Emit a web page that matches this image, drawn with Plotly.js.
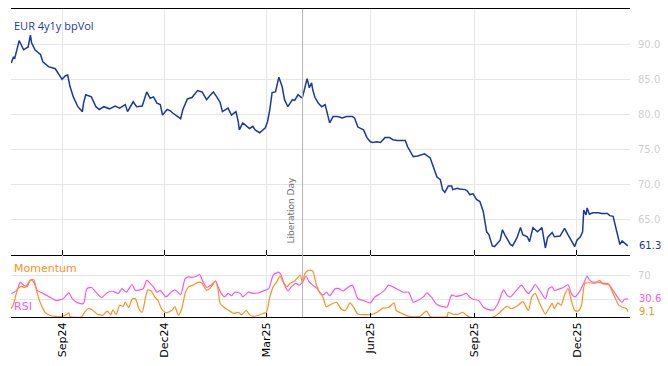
<!DOCTYPE html>
<html>
<head>
<meta charset="utf-8">
<script src="https://cdn.plot.ly/plotly-3.0.1.min.js"></script>
<style>html,body{margin:0;padding:0;background:#fff}#chart{width:668px;height:366px}</style>
</head>
<body>
<div id="chart"></div>
<script>
// ---- data ----
var volDates = ['2024-07-18','2024-07-20','2024-07-21','2024-07-25','2024-07-29','2024-08-02','2024-08-04','2024-08-05','2024-08-08','2024-08-13','2024-08-15','2024-08-20','2024-08-26','2024-08-28','2024-09-01','2024-09-04','2024-09-06','2024-09-08','2024-09-11','2024-09-15','2024-09-19','2024-09-20','2024-09-22','2024-09-27','2024-10-01','2024-10-04','2024-10-08','2024-10-13','2024-10-18','2024-10-22','2024-10-27','2024-10-29','2024-11-03','2024-11-06','2024-11-11','2024-11-15','2024-11-18','2024-11-21','2024-11-24','2024-11-27','2024-11-29','2024-12-03','2024-12-06','2024-12-08','2024-12-12','2024-12-15','2024-12-17','2024-12-21','2024-12-25','2024-12-30','2025-01-03','2025-01-07','2025-01-10','2025-01-13','2025-01-16','2025-01-19','2025-01-21','2025-01-26','2025-01-29','2025-02-02','2025-02-04','2025-02-05','2025-02-08','2025-02-12','2025-02-14','2025-02-17','2025-02-19','2025-02-23','2025-02-28','2025-03-02','2025-03-04','2025-03-06','2025-03-09','2025-03-12','2025-03-15','2025-03-17','2025-03-20','2025-03-24','2025-03-26','2025-03-29','2025-04-01','2025-04-02','2025-04-06','2025-04-08','2025-04-10','2025-04-11','2025-04-13','2025-04-16','2025-04-19','2025-04-22','2025-04-24','2025-04-26','2025-04-29','2025-05-03','2025-05-07','2025-05-11','2025-05-16','2025-05-18','2025-05-21','2025-05-26','2025-05-29','2025-06-01','2025-06-03','2025-06-07','2025-06-10','2025-06-14','2025-06-18','2025-06-21','2025-06-25','2025-07-02','2025-07-04','2025-07-09','2025-07-13','2025-07-19','2025-07-24','2025-07-27','2025-07-30','2025-08-02','2025-08-04','2025-08-06','2025-08-09','2025-08-12','2025-08-13','2025-08-17','2025-08-19','2025-08-24','2025-08-26','2025-08-28','2025-08-31','2025-09-03','2025-09-06','2025-09-09','2025-09-12','2025-09-14','2025-09-17','2025-09-19','2025-09-22','2025-09-24','2025-09-26','2025-09-28','2025-10-03','2025-10-05','2025-10-09','2025-10-12','2025-10-14','2025-10-18','2025-10-20','2025-10-23','2025-10-27','2025-10-31','2025-11-03','2025-11-05','2025-11-09','2025-11-11','2025-11-16','2025-11-18','2025-11-20','2025-11-23','2025-11-27','2025-11-29','2025-12-01','2025-12-04','2025-12-06','2025-12-07','2025-12-09','2025-12-10','2025-12-12','2025-12-15','2025-12-20','2025-12-23','2025-12-28','2025-12-30','2026-01-02','2026-01-05','2026-01-08','2026-01-10','2026-01-14','2026-01-15'];
var volValues = [87.3,88.2,87.9,90.5,89.2,89.6,91.3,90.2,89.2,88.5,87.5,86.8,86.5,86.0,85.0,85.5,85.6,84.0,82.5,81.1,80.4,81.6,82.8,82.5,81.1,80.7,81.1,80.8,81.2,80.9,81.4,80.4,81.8,81.1,81.2,83.2,82.3,82.5,81.6,81.4,79.9,80.7,80.5,80.2,79.7,79.4,80.7,82.2,82.4,83.4,83.2,82.1,82.7,83.2,82.5,81.7,80.4,80.9,79.9,80.4,79.0,77.8,78.8,78.2,78.0,78.3,77.8,77.4,78.1,79.0,80.7,83.1,83.2,85.3,83.9,82.1,81.1,82.1,82.0,82.8,82.4,82.5,85.1,83.8,84.5,83.5,82.4,81.6,81.1,81.4,79.9,78.8,79.7,79.7,79.5,79.7,79.7,79.5,78.2,77.8,76.7,76.1,76.0,76.1,76.0,76.7,76.7,76.4,76.3,76.3,75.4,74.0,74.1,74.4,73.8,72.3,71.1,70.7,69.3,68.9,69.8,69.8,69.3,69.5,69.4,69.3,69.1,68.6,68.7,67.9,67.6,66.2,63.3,62.9,61.3,61.2,61.7,62.1,63.6,62.9,61.5,61.3,62.5,63.9,62.9,62.6,61.9,63.9,63.3,63.9,61.0,62.5,63.2,62.6,62.7,63.2,63.8,62.9,61.7,61.2,62.1,62.6,63.3,66.4,65.7,66.7,65.8,66.0,66.0,65.9,65.9,65.6,65.5,63.6,61.5,62.0,61.5,61.3];

var rsiDates = ['2024-07-18','2024-07-23','2024-07-26','2024-07-29','2024-08-01','2024-08-04','2024-08-07','2024-08-10','2024-08-14','2024-08-21','2024-08-27','2024-09-02','2024-09-07','2024-09-10','2024-09-15','2024-09-20','2024-09-23','2024-09-27','2024-10-02','2024-10-06','2024-10-11','2024-10-15','2024-10-21','2024-10-24','2024-10-28','2024-11-02','2024-11-05','2024-11-09','2024-11-12','2024-11-15','2024-11-18','2024-11-21','2024-11-24','2024-11-27','2024-12-02','2024-12-06','2024-12-10','2024-12-15','2024-12-19','2024-12-22','2024-12-25','2024-12-29','2025-01-01','2025-01-03','2025-01-07','2025-01-11','2025-01-15','2025-01-17','2025-01-20','2025-01-23','2025-01-26','2025-01-29','2025-02-01','2025-02-06','2025-02-08','2025-02-13','2025-02-17','2025-02-22','2025-02-26','2025-03-03','2025-03-07','2025-03-12','2025-03-14','2025-03-17','2025-03-20','2025-03-23','2025-03-27','2025-03-30','2025-04-02','2025-04-05','2025-04-08','2025-04-11','2025-04-15','2025-04-17','2025-04-20','2025-04-23','2025-04-26','2025-05-01','2025-05-04','2025-05-08','2025-05-12','2025-05-16','2025-05-18','2025-05-21','2025-05-26','2025-06-01','2025-06-05','2025-06-10','2025-06-14','2025-06-17','2025-06-21','2025-06-26','2025-06-30','2025-07-05','2025-07-09','2025-07-13','2025-07-18','2025-07-21','2025-07-25','2025-07-30','2025-08-05','2025-08-08','2025-08-12','2025-08-16','2025-08-21','2025-08-25','2025-08-28','2025-08-31','2025-09-05','2025-09-09','2025-09-13','2025-09-18','2025-09-22','2025-09-27','2025-09-30','2025-10-03','2025-10-07','2025-10-13','2025-10-16','2025-10-19','2025-10-22','2025-10-25','2025-10-29','2025-11-03','2025-11-06','2025-11-09','2025-11-11','2025-11-16','2025-11-19','2025-11-23','2025-11-26','2025-11-29','2025-12-03','2025-12-07','2025-12-10','2025-12-12','2025-12-15','2025-12-20','2025-12-24','2025-12-29','2026-01-02','2026-01-07','2026-01-10','2026-01-12','2026-01-15'];
var rsiValues = [39.7,45,59,54,51,63,59,45,41,34,28,31,41,31,24,23,48,50,40,33,41,44,40,48,42,55,45,46,48,62,57,51,42,45,34,41,46,38,65,68,67,69,72,63,50,54,61,52,40,34,40,36,42,40,34,42,40,41,44,48,71,76,71,54,44,51,57,54,59,69,59,54,48,42,37,42,36,48,48,44,50,54,46,31,28,24,34,40,46,54,51,46,42,42,25,28,34,41,34,21,17,17,37,35,37,40,34,30,28,17,13,12,23,46,37,34,42,54,46,40,46,55,45,31,48,51,45,48,50,55,40,34,42,57,69,63,59,59,57,56,45,31,25,30,30.6];

var momDates = ['2024-07-18','2024-07-20','2024-07-24','2024-07-27','2024-07-30','2024-08-04','2024-08-07','2024-08-10','2024-08-13','2024-08-17','2024-08-21','2024-08-26','2024-09-01','2024-09-04','2024-09-07','2024-09-08','2024-09-18','2024-09-21','2024-09-24','2024-09-28','2024-10-02','2024-10-07','2024-10-11','2024-10-14','2024-10-16','2024-10-19','2024-10-22','2024-10-25','2024-10-27','2024-10-30','2024-11-02','2024-11-05','2024-11-08','2024-11-11','2024-11-14','2024-11-16','2024-11-19','2024-11-22','2024-11-25','2024-11-28','2024-12-01','2024-12-04','2024-12-07','2024-12-10','2024-12-13','2024-12-16','2024-12-19','2024-12-22','2024-12-26','2024-12-31','2025-01-03','2025-01-07','2025-01-11','2025-01-15','2025-01-17','2025-01-19','2025-01-22','2025-01-26','2025-01-31','2025-02-04','2025-02-07','2025-02-11','2025-02-14','2025-02-17','2025-02-22','2025-02-26','2025-03-01','2025-03-04','2025-03-07','2025-03-10','2025-03-13','2025-03-16','2025-03-19','2025-03-22','2025-03-26','2025-03-31','2025-04-02','2025-04-04','2025-04-07','2025-04-11','2025-04-14','2025-04-17','2025-04-20','2025-04-23','2025-04-26','2025-05-02','2025-05-06','2025-05-10','2025-05-14','2025-05-17','2025-05-21','2025-05-29','2025-06-02','2025-06-07','2025-06-12','2025-06-17','2025-06-22','2025-06-24','2025-06-29','2025-07-05','2025-07-15','2025-07-19','2025-07-21','2025-07-24','2025-08-08','2025-08-09','2025-08-13','2025-08-18','2025-08-22','2025-08-25','2025-08-28','2025-09-18','2025-09-22','2025-09-27','2025-09-30','2025-10-04','2025-10-10','2025-10-14','2025-10-19','2025-10-22','2025-10-25','2025-10-29','2025-11-03','2025-11-06','2025-11-09','2025-11-11','2025-11-14','2025-11-17','2025-11-20','2025-11-23','2025-11-26','2025-11-29','2025-12-02','2025-12-05','2025-12-08','2025-12-12','2025-12-17','2025-12-21','2025-12-24','2025-12-29','2026-01-02','2026-01-07','2026-01-10','2026-01-14','2026-01-15'];
var momValues = [14,22,48,52,50,62,63,40,23,8,3,1,1,3,7,1,0,8,14,12,5,3,10,4,12,4,20,18,25,16,30,31,14,8,34,46,44,34,28,14,8,8,11,17,3,14,40,51,54,59,57,45,51,61,48,23,17,12,6,8,4,11,4,1,3,6,8,34,51,59,69,59,51,57,61,71,57,73,79,78,56,42,34,17,20,25,14,11,24,17,5,4,4,8,15,16,24,11,6,1,1,8,10,1,1,8,5,5,8,3,0,0,5,14,18,14,20,26,11,34,40,23,5,14,23,14,24,20,37,48,28,11,10,20,57,58,57,62,56,55,40,20,17,14,9.1];

var tickDates = ['2024-09-01','2024-12-01','2025-03-01','2025-06-01','2025-09-01','2025-12-01'];
var tickLabels = ['Sep24','Dec24','Mar25','Jun25','Sep25','Dec25'];
var volTicks = [65,70,75,80,85,90];
var oscTicks = [30,70];
var oscTickLabels = ['','70'];
var eventDate = '2025-04-02';
var eventLabel = 'Liberation Day';
var seriesNames = ['EUR 4y1y bpVol','RSI','Momentum'];

// ---- styles ----
var BLUE = '#1a3aa0', PINK = '#ff55dd', ORANGE = '#ff9020';
var GRID = '#e6e6e6', TICKC = '#cfcfcf';
var xRange = ['2024-07-17 19:00','2026-01-16 23:00'];

var lastVol = volValues[volValues.length-1];
var lastRsi = rsiValues[rsiValues.length-1];
var lastMom = momValues[momValues.length-1];

var traces = [
  {x: volDates, y: volValues, type:'scatter', mode:'lines', name: seriesNames[0],
   line:{color:BLUE, width:1.5}, xaxis:'x', yaxis:'y', hoverinfo:'skip'},
  {x: rsiDates, y: rsiValues, type:'scatter', mode:'lines', name: seriesNames[1],
   line:{color:PINK, width:1.2, shape:'spline', smoothing:0.6}, xaxis:'x2', yaxis:'y2', hoverinfo:'skip'},
  {x: momDates, y: momValues, type:'scatter', mode:'lines', name: seriesNames[2],
   line:{color:ORANGE, width:1.2, shape:'spline', smoothing:0.6}, xaxis:'x2', yaxis:'y2', hoverinfo:'skip'}
];

var split = 62/308;
var axFont = {family:'DejaVu Sans', size:10, color:TICKC};

var layout = {
  width:668, height:366,
  margin:{l:11, r:38, t:9, b:49},
  paper_bgcolor:'#fff', plot_bgcolor:'#fff',
  showlegend:false,
  font:{family:'DejaVu Sans', size:10},
  xaxis:{domain:[0,1], anchor:'y', type:'date', range:xRange,
    tickvals:tickDates, ticktext:tickLabels, showticklabels:false,
    ticks:'inside', ticklen:5, tickcolor:'#000', tickwidth:1,
    showgrid:true, gridcolor:GRID, gridwidth:1,
    showline:true, linecolor:'#000', linewidth:1, mirror:true, zeroline:false},
  yaxis:{domain:[split,1], anchor:'x', side:'right', range:[60,95],
    tickvals:volTicks, tickformat:'.1f', ticks:'', ticklabelstandoff:7,
    tickfont:axFont, showgrid:true, gridcolor:GRID, gridwidth:1,
    showline:false, zeroline:false},
  xaxis2:{domain:[0,1], anchor:'y2', type:'date', range:xRange,
    tickvals:tickDates, ticktext:tickLabels, tickangle:-90,
    tickfont:{family:'DejaVu Sans', size:11, color:'#000'},
    ticks:'inside', ticklen:4, tickcolor:'#000', tickwidth:1,
    showgrid:true, gridcolor:GRID, gridwidth:1,
    showline:true, linecolor:'#000', linewidth:1, mirror:false, zeroline:false},
  yaxis2:{domain:[0,split], anchor:'x2', side:'right', range:[0,105],
    tickvals:oscTicks, ticktext:oscTickLabels, ticks:'', ticklabelstandoff:7,
    tickfont:axFont, showgrid:true, gridcolor:GRID, gridwidth:1,
    showline:false, zeroline:false},
  shapes:[
    {type:'line', xref:'x', yref:'paper', x0:eventDate, x1:eventDate, y0:0, y1:1,
     line:{color:'#b4b4b4', width:1}}
  ],
  annotations:[
    {xref:'paper', yref:'paper', x:0, y:(317-25)/308, xanchor:'left', yanchor:'middle', xshift:1,
     text:seriesNames[0], showarrow:false, font:{family:'Open Sans', size:11, color:BLUE}},
    {xref:'paper', yref:'paper', x:0, y:(317-268)/308, xanchor:'left', yanchor:'middle', xshift:1,
     text:seriesNames[2], showarrow:false, font:{family:'DejaVu Sans', size:11, color:ORANGE}},
    {xref:'paper', yref:'paper', x:0, y:(317-306)/308, xanchor:'left', yanchor:'middle', xshift:1,
     text:seriesNames[1], showarrow:false, font:{family:'DejaVu Sans', size:11, color:PINK}},
    {xref:'x', yref:'paper', x:eventDate, y:(317-210)/308, xanchor:'center', yanchor:'middle', xshift:-12,
     text:eventLabel, textangle:-90, showarrow:false, font:{family:'DejaVu Sans', size:9, color:'#707070'}},
    {xref:'paper', yref:'y', x:1, y:lastVol, xanchor:'left', yanchor:'middle', xshift:7,
     text:lastVol.toFixed(1), showarrow:false, font:{family:'DejaVu Sans', size:10, color:BLUE}},
    {xref:'paper', yref:'y2', x:1, y:lastRsi, xanchor:'left', yanchor:'middle', xshift:7,
     text:lastRsi.toFixed(1), showarrow:false, font:{family:'DejaVu Sans', size:10, color:PINK}},
    {xref:'paper', yref:'y2', x:1, y:lastMom, xanchor:'left', yanchor:'middle', xshift:7,
     text:lastMom.toFixed(1), showarrow:false, font:{family:'DejaVu Sans', size:10, color:ORANGE}}
  ]
};

Plotly.newPlot('chart', traces, layout, {displayModeBar:false, staticPlot:true});
</script>
</body>
</html>
